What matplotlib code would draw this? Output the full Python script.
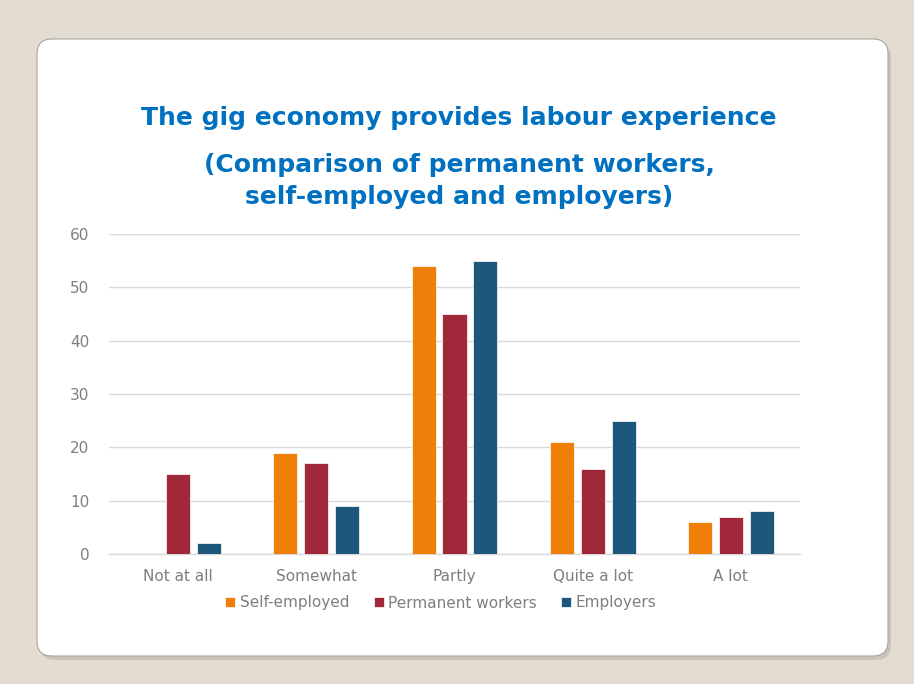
import matplotlib
matplotlib.use("Agg")
import matplotlib.pyplot as plt
import numpy as np
from matplotlib.patches import FancyBboxPatch

categories = ['Not at all', 'Somewhat', 'Partly', 'Quite a lot', 'A lot']
self_employed = [0, 19, 54, 21, 6]
permanent_workers = [15, 17, 45, 16, 7]
employers = [2, 9, 55, 25, 8]

series_names = ['Self-employed', 'Permanent workers', 'Employers']
colors = ['#F07F09', '#A0283A', '#1D577C']
yticks = [0, 10, 20, 30, 40, 50, 60]

W, H = 914, 684
fig = plt.figure(figsize=(W / 100, H / 100), dpi=100)
fig.patch.set_facecolor('#E3DDD1')

# slide card with shadow
bg = fig.add_axes([0, 0, 1, 1])
bg.set_xlim(0, W)
bg.set_ylim(H, 0)
bg.axis('off')
bg.add_patch(FancyBboxPatch((40, 43), 851, 617, boxstyle='round,pad=0,rounding_size=15',
                            facecolor='#B8B2A8', edgecolor='none', alpha=0.6))
bg.add_patch(FancyBboxPatch((37, 39), 851, 617, boxstyle='round,pad=0,rounding_size=15',
                            facecolor='white', edgecolor='#A8A49E', linewidth=0.8))

title_color = '#0070C0'
fig.text(459 / W, 1 - 118 / H, 'The gig economy provides labour experience',
         ha='center', va='center', fontsize=18, fontweight='bold', color=title_color)
fig.text(459 / W, 1 - 181 / H, '(Comparison of permanent workers,\nself-employed and employers)',
         ha='center', va='center', fontsize=18, fontweight='bold', color=title_color,
         linespacing=1.4)

ax = fig.add_axes([109 / W, 1 - 554 / H, 691 / W, 320 / H])
ax.set_facecolor('none')
x = np.arange(len(categories))
offset = 0.224
width = 0.174
for i, (vals, name, c) in enumerate(zip([self_employed, permanent_workers, employers],
                                        series_names, colors)):
    ax.bar(x + (i - 1) * offset, vals, width, color=c, label=name,
           edgecolor='white', linewidth=0.5, zorder=3)

ax.set_xlim(-0.5, len(categories) - 0.5)
ax.set_ylim(0, 60)
ax.set_yticks(yticks)
ax.set_xticks(x)
ax.set_xticklabels(categories)
ax.grid(axis='y', color='#D9D9D9', linewidth=1, zorder=0)
for s in ['top', 'right', 'left']:
    ax.spines[s].set_visible(False)
ax.spines['bottom'].set_color('#D9D9D9')
ax.spines['bottom'].set_linewidth(1)
ax.tick_params(length=0, colors='#7F7F7F', labelsize=11)
ax.tick_params(axis='y', pad=14)
ax.tick_params(axis='x', pad=11)

ax.legend(loc='center', bbox_to_anchor=(441 / W, 1 - 603 / H), bbox_transform=fig.transFigure,
          ncol=3, frameon=False, fontsize=11, labelcolor='#7F7F7F', handlelength=0.65,
          handleheight=0.65, handletextpad=0.3, columnspacing=1.6)

fig.savefig('out.png', dpi=100, facecolor=fig.get_facecolor())
